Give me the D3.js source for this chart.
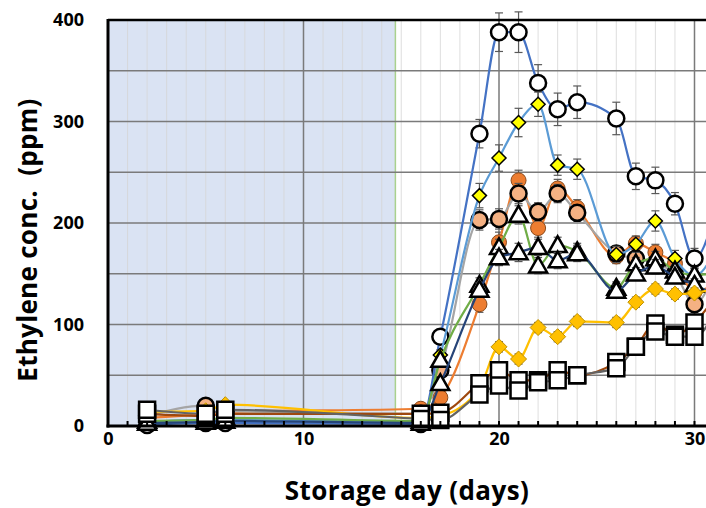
<!DOCTYPE html>
<html>
<head>
<meta charset="utf-8">
<script src="https://cdn.jsdelivr.net/npm/d3@7"></script>
<style>
  html, body { margin: 0; padding: 0; background: #fff; }
  svg { display: block; font-family: "Open Sans", "Liberation Sans", Arial, sans-serif; }
</style>
</head>
<body>
<div id="chart"></div>
<script>
// Storage days where samples were taken
const days = [2, 5, 6, 16, 17, 19, 20, 21, 22, 23, 24, 26, 27, 28, 29, 30, 31];

// Ethylene (ppm) per treatment
const circleBlue   = [1, 3, 3, 2, 88, 288, 388, 388, 338, 312, 319, 303, 246, 242, 219, 165, 205];
const diamondYel   = [4, 6, 6, 4, 70, 227, 264, 299, 317, 257, 253, 169, 179, 202, 165, 148, 170];
const circleOrange = [8, 12, 14, 17, 28, 120, 181, 242, 195, 234, 215, 167, 180, 171, 160, 132, 140];
const circlePeach  = [10, 20, 15, 12, 55, 203, 204, 229, 211, 229, 210, 170, 165, 160, 150, 120, 150];
const triGreen     = [5, 6, 8, 5, 65, 139, 176, 208, 158, 178, 172, 136, 160, 165, 153, 149, 150];
const triNavy      = [3, 4, 5, 3, 42, 134, 166, 171, 176, 163, 170, 133, 150, 157, 147, 139, 130];
const diamondGold  = [14, 15, 21, 8, 10, 37, 78, 66, 97, 88, 103, 102, 122, 135, 130, 131, 135];
const squareBrown  = [12, 10, 12, 12, 13, 42, 55, 45, 45, 55, 50, 63, 78, 101, 90, 102, 125];
const squareGray   = [16, 12, 16, 7, 6, 31, 40, 35, 43, 45, 50, 57, 78, 93, 88, 88, 110];

// error bar half-widths (ppm)
const errBlue   = [0, 0, 0, 0, 6, 14, 19, 20, 18, 16, 16, 16, 13, 13, 11, 10, 10];
const errYel    = [0, 0, 0, 0, 5, 12, 13, 14, 12, 10, 10, 8, 8, 10, 8, 8, 8];
const errOrange = [0, 0, 0, 0, 4, 8, 10, 10, 9, 9, 8, 7, 7, 8, 7, 6, 6];
const errPeach  = [0, 0, 0, 0, 4, 10, 10, 10, 9, 9, 8, 7, 7, 7, 7, 6, 6];
const errGreen  = [0, 0, 0, 0, 4, 7, 8, 9, 8, 8, 8, 6, 6, 7, 6, 6, 6];
const errNavy   = [0, 0, 0, 0, 4, 7, 8, 9, 8, 8, 8, 6, 6, 7, 6, 6, 6];
const errGold   = [0, 0, 0, 0, 2, 4, 5, 5, 5, 5, 5, 5, 5, 5, 5, 5, 5];
const errBrown  = [0, 0, 0, 0, 2, 4, 4, 4, 4, 4, 4, 4, 4, 5, 5, 5, 5];
const errGray   = [0, 0, 0, 0, 2, 4, 4, 4, 4, 4, 4, 4, 4, 5, 5, 5, 5];

const yTicks = [0, 100, 200, 300, 400];
const xTicks = [0, 10, 20, 30];
const shadeEnd = 14.7;
const lastShown = 30; // day 31 falls just past the picture edge

const series = [
    { values: circleOrange, err: errOrange, line: '#ed7d31', shape: 'circle', fill: '#ed7d31', stroke: '#8a4a1c', sw: 1, size: 7.5 },
    { values: circlePeach,  err: errPeach,  line: '#a5a5a5', shape: 'circle', fill: '#f4b183', stroke: '#000', sw: 2.5, size: 8 },
    { values: circleBlue,   err: errBlue,   line: '#4472c4', shape: 'circle', fill: '#fff', stroke: '#000', sw: 2.5, size: 8 },
    { values: diamondYel,   err: errYel,    line: '#5b9bd5', shape: 'diamond', fill: '#ffff00', stroke: '#000', sw: 1.5, size: 7 },
    { values: triGreen,     err: errGreen,  line: '#70ad47', shape: 'triangle', fill: '#fff', stroke: '#000', sw: 2.5, size: 9 },
    { values: triNavy,      err: errNavy,   line: '#264478', shape: 'triangle', fill: '#fff', stroke: '#000', sw: 2.5, size: 9 },
    { values: diamondGold,  err: errGold,   line: '#ffc000', shape: 'diamond', fill: '#ffc000', stroke: '#bf9000', sw: 1, size: 8 },
    { values: squareBrown,  err: errBrown,  line: '#9e480e', shape: 'square', fill: '#fff', stroke: '#000', sw: 2.5, size: 8 },
    { values: squareGray,   err: errGray,   line: '#636363', shape: 'square', fill: '#fff', stroke: '#000', sw: 2.5, size: 8 }
];

const W = 706, H = 508;
const plotLeft = 108, plotTop = 20, plotBottom = 426;
const dayPx = 19.55;

const svg = d3.select('#chart').append('svg')
    .attr('width', W)
    .attr('height', H);

const x = d3.scaleLinear().domain([0, 31]).range([plotLeft, plotLeft + 31 * dayPx]);
const y = d3.scaleLinear().domain([0, 400]).range([plotBottom, plotTop]);

// shaded storage period
svg.append('rect')
    .attr('x', x(0))
    .attr('y', y(400))
    .attr('width', x(shadeEnd) - x(0))
    .attr('height', y(0) - y(400))
    .attr('fill', '#dae3f3')
    .attr('stroke', '#a9d18e')
    .attr('stroke-width', 1.5);

// minor vertical grid, every day
svg.append('g').selectAll('line')
    .data(d3.range(1, 32).filter(d => d % 10 !== 0))
    .join('line')
    .attr('x1', d => x(d)).attr('x2', d => x(d))
    .attr('y1', y(400)).attr('y2', y(0))
    .attr('stroke', '#d6d6d6')
    .attr('stroke-opacity', 0.8)
    .attr('stroke-width', 1);

// horizontal grid every 50
svg.append('g').selectAll('line')
    .data(d3.range(50, 400, 50))
    .join('line')
    .attr('x1', x(0)).attr('x2', W)
    .attr('y1', d => y(d)).attr('y2', d => y(d))
    .attr('stroke', '#7a7a7a')
    .attr('stroke-width', 1.5);

// major vertical grid
svg.append('g').selectAll('line')
    .data([10, 20, 30])
    .join('line')
    .attr('x1', d => x(d)).attr('x2', d => x(d))
    .attr('y1', y(400)).attr('y2', y(0))
    .attr('stroke', '#7a7a7a')
    .attr('stroke-width', 1.5);

// series: error bars, smoothed line, markers
const lineGen = d3.line()
    .x(d => x(d.day))
    .y(d => y(d.v))
    .curve(d3.curveMonotoneX);

function markerPath(shape, s) {
    if (shape === 'diamond') return `M0,${-s}L${s},0L0,${s}L${-s},0Z`;
    if (shape === 'triangle') return `M0,${-s}L${s},${s * 0.75}L${-s},${s * 0.75}Z`;
    return `M${-s},${-s}H${s}V${s}H${-s}Z`;
}

series.forEach(s => {
    const pts = days.map((d, i) => ({ day: d, v: s.values[i], e: s.err[i] }));
    const shown = pts.filter(p => p.day <= lastShown);
    const g = svg.append('g');

    const eb = g.append('g').selectAll('g')
        .data(shown.filter(p => p.e > 0))
        .join('g')
        .attr('stroke', '#595959')
        .attr('stroke-width', 1.2);
    eb.append('line')
        .attr('x1', p => x(p.day)).attr('x2', p => x(p.day))
        .attr('y1', p => y(p.v - p.e)).attr('y2', p => y(p.v + p.e));
    eb.append('line')
        .attr('x1', p => x(p.day) - 4).attr('x2', p => x(p.day) + 4)
        .attr('y1', p => y(p.v + p.e)).attr('y2', p => y(p.v + p.e));
    eb.append('line')
        .attr('x1', p => x(p.day) - 4).attr('x2', p => x(p.day) + 4)
        .attr('y1', p => y(p.v - p.e)).attr('y2', p => y(p.v - p.e));

    g.append('path')
        .datum(pts)
        .attr('fill', 'none')
        .attr('stroke', s.line)
        .attr('stroke-width', 2.2)
        .attr('d', lineGen);

    if (s.shape === 'circle') {
        g.selectAll('circle.m')
            .data(shown)
            .join('circle')
            .attr('class', 'm')
            .attr('cx', p => x(p.day))
            .attr('cy', p => y(p.v))
            .attr('r', s.size)
            .attr('fill', s.fill)
            .attr('stroke', s.stroke)
            .attr('stroke-width', s.sw);
    } else {
        g.selectAll('path.m')
            .data(shown)
            .join('path')
            .attr('class', 'm')
            .attr('transform', p => `translate(${x(p.day)},${y(p.v)})`)
            .attr('d', markerPath(s.shape, s.size))
            .attr('fill', s.fill)
            .attr('stroke', s.stroke)
            .attr('stroke-width', s.sw)
            .attr('stroke-linejoin', 'miter');
    }
});

// frame: top border, left and bottom axes
svg.append('line')
    .attr('x1', x(0)).attr('x2', W)
    .attr('y1', y(400)).attr('y2', y(400))
    .attr('stroke', '#000').attr('stroke-width', 2.5);

svg.append('line')
    .attr('x1', x(0)).attr('x2', x(0))
    .attr('y1', y(400) - 1).attr('y2', y(0) + 1.5)
    .attr('stroke', '#000').attr('stroke-width', 3);

svg.append('line')
    .attr('x1', x(0) - 1.5).attr('x2', W)
    .attr('y1', y(0)).attr('y2', y(0))
    .attr('stroke', '#000').attr('stroke-width', 3);

// minor ticks, pointing into the plot
svg.append('g').selectAll('line')
    .data(d3.range(1, 32))
    .join('line')
    .attr('x1', d => x(d)).attr('x2', d => x(d))
    .attr('y1', y(0)).attr('y2', y(0) - 5)
    .attr('stroke', '#000')
    .attr('stroke-width', 2);

// axis labels
const yAxis = svg.append('g')
    .attr('transform', `translate(${x(0) - 24},0)`)
    .call(d3.axisLeft(y).tickValues(yTicks).tickSize(0).tickPadding(0));
yAxis.select('.domain').remove();
yAxis.selectAll('text')
    .style('font-size', '18px')
    .style('font-weight', 'bold')
    .style('font-family', '"Open Sans", "Liberation Sans", Arial, sans-serif')
    .attr('fill', '#000');

const xAxis = svg.append('g')
    .attr('transform', `translate(0,${y(0) + 6})`)
    .call(d3.axisBottom(x).tickValues(xTicks).tickSize(0).tickPadding(0));
xAxis.select('.domain').remove();
xAxis.selectAll('text')
    .style('font-size', '18px')
    .style('font-weight', 'bold')
    .style('font-family', '"Open Sans", "Liberation Sans", Arial, sans-serif')
    .attr('fill', '#000');

// titles
svg.append('text')
    .attr('x', 407)
    .attr('y', 500)
    .attr('text-anchor', 'middle')
    .style('font-size', '26px')
    .style('font-weight', 'bold')
    .style('letter-spacing', '0.4px')
    .text('Storage day (days)');

svg.append('text')
    .attr('transform', 'translate(37,240) rotate(-90)')
    .attr('text-anchor', 'middle')
    .style('font-size', '26px')
    .style('font-weight', 'bold')
    .style('letter-spacing', '0.3px')
    .style('white-space', 'pre')
    .text('Ethylene conc.  (ppm)');
</script>
</body>
</html>
